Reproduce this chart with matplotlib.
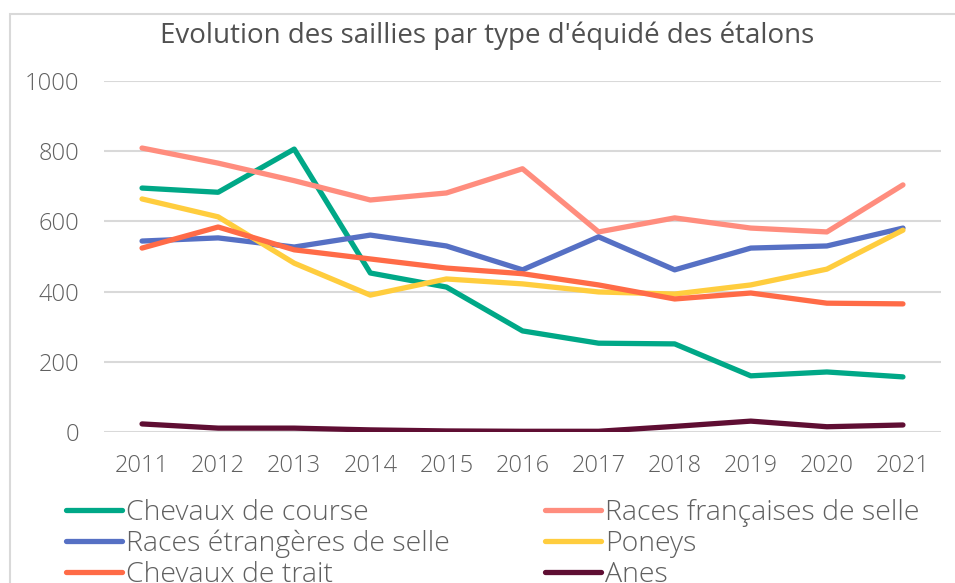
import matplotlib
matplotlib.use("Agg")
import matplotlib.pyplot as plt
from matplotlib.patches import Rectangle
from matplotlib.lines import Line2D

years = ["2011", "2012", "2013", "2014", "2015", "2016", "2017", "2018", "2019", "2020", "2021"]

chevaux_course = [695, 683, 806, 453, 413, 288, 253, 251, 160, 171, 157]
races_francaises = [809, 766, 716, 661, 681, 750, 570, 610, 581, 570, 704]
races_etrangeres = [544, 553, 527, 561, 530, 462, 556, 462, 524, 530, 581]
poneys = [664, 613, 481, 390, 436, 422, 399, 393, 419, 464, 575]
chevaux_trait = [524, 584, 519, 493, 467, 451, 419, 379, 396, 367, 365]
anes = [23, 11, 11, 6, 3, 2, 2, 16, 31, 15, 20]

series = [
    ("Chevaux de course", chevaux_course, "#00A887"),
    ("Races françaises de selle", races_francaises, "#FF8D7E"),
    ("Races étrangères de selle", races_etrangeres, "#5670C4"),
    ("Poneys", poneys, "#FFCD3E"),
    ("Chevaux de trait", chevaux_trait, "#FF6B47"),
    ("Anes", anes, "#5F0E33"),
]

plt.rcParams["font.family"] = ["Open Sans", "DejaVu Sans"]

fig = plt.figure(figsize=(9.55, 5.83), dpi=100)
W, H = 955, 583

# light frame around the chart area
fig.patches.append(Rectangle((10 / W, -0.1), 1.1, 1 - 14 / H + 0.1, transform=fig.transFigure,
                             fill=False, edgecolor="#d9d9d9", linewidth=1.5))

ax = fig.add_axes([104 / W, 1 - 432 / H, 837 / W, 351 / H])
x = list(range(len(years)))
handles = {}
for name, vals, color in series:
    ln, = ax.plot(x, vals, color=color, lw=3.8, solid_capstyle="round", solid_joinstyle="round")
    handles[name] = ln

ax.set_xlim(-0.5, len(years) - 0.5)
ax.set_ylim(0, 1000)
ax.set_yticks(range(0, 1001, 200))
ax.set_xticks(x)
ax.set_xticklabels(years)
ax.grid(axis="y", color="#d9d9d9", lw=1.5)
ax.set_axisbelow(True)
for s in ax.spines.values():
    s.set_visible(False)
ax.tick_params(length=0, labelsize=17, labelcolor="#606060", pad=18)
ax.tick_params(axis="x", pad=16)
for lab in ax.get_xticklabels() + ax.get_yticklabels():
    lab.set_fontweight(300)

fig.text(487 / W, 1 - 36 / H, "Evolution des saillies par type d'équidé des étalons",
         ha="center", va="center", fontsize=20, color="#505050")

left_names = ["Chevaux de course", "Races étrangères de selle", "Chevaux de trait"]
right_names = ["Races françaises de selle", "Poneys", "Anes"]
for names, x0 in ((left_names, 66), (right_names, 545)):
    hs = [Line2D([], [], color=handles[n].get_color(), lw=3.8, solid_capstyle="round") for n in names]
    leg = fig.legend(hs, names, loc="upper left", bbox_to_anchor=(x0 / W, 1 - 499 / H),
                     frameon=False, handlelength=1.95, handletextpad=0.15, labelspacing=0.1,
                     borderaxespad=0, borderpad=0, prop={"size": 20.5, "weight": 300})
    for t in leg.get_texts():
        t.set_color("#606060")

fig.savefig("out.png", dpi=100)
